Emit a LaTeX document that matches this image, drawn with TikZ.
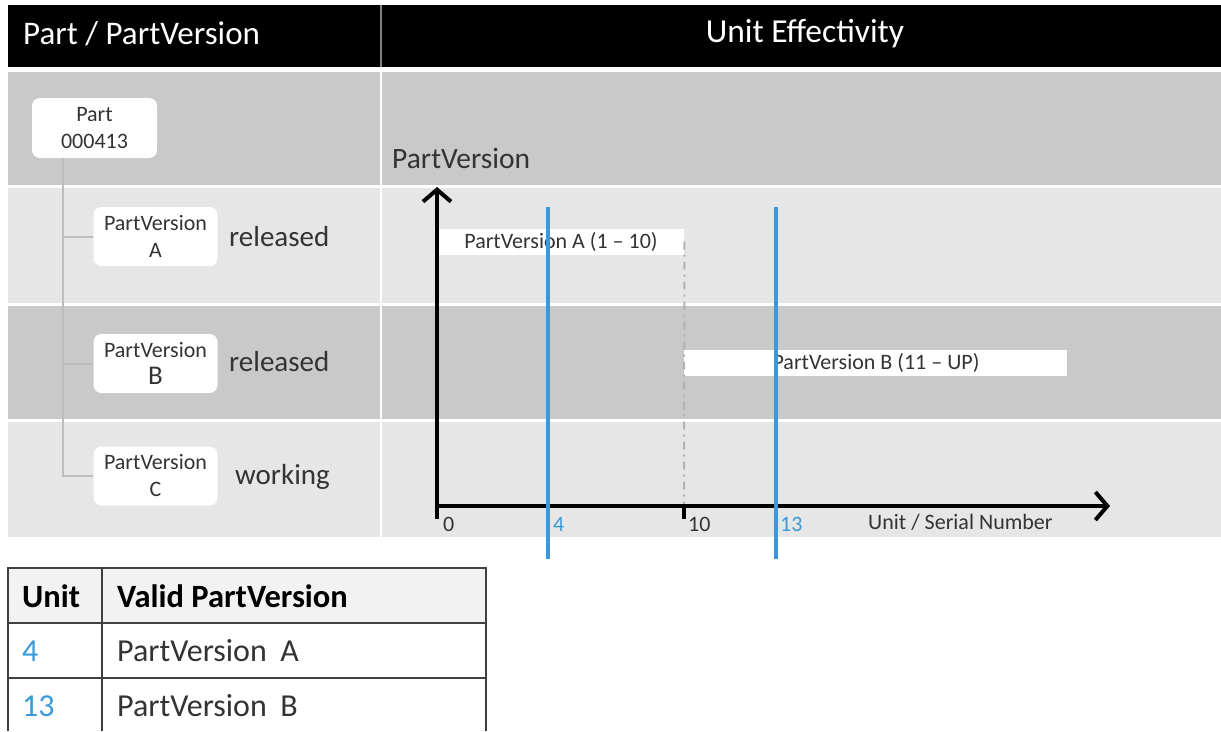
\documentclass[tikz,border=0pt]{standalone}
\usepackage{fontspec}
\setmainfont{Carlito}
\usetikzlibrary{arrows.meta}
\definecolor{rowdark}{HTML}{C9C9C9}
\definecolor{rowlight}{HTML}{E6E6E6}
\definecolor{unitblue}{HTML}{3A9AD9}
\definecolor{treegray}{HTML}{BDBDBD}
\definecolor{txtgray}{HTML}{333333}
\definecolor{tabhead}{HTML}{F2F2F2}
\definecolor{tabline}{HTML}{404040}
\tikzset{
  pvbox/.style={fill=white, rounded corners=8pt, minimum width=124pt, minimum height=59pt,
    align=center, inner sep=0pt, text=txtgray, font=\fontsize{22}{27}\selectfont},
  state/.style={anchor=west, text=txtgray, inner sep=0pt, font=\fontsize{29}{34}\selectfont},
  tree/.style={draw=treegray, line width=2pt},
  bar/.style={fill=white, inner sep=0pt, text=txtgray, font=\fontsize{22}{26}\selectfont},
  axis/.style={line width=4pt, -{Straight Barb[length=12pt,width=28pt,line width=4pt]}},
  unitline/.style={draw=unitblue, line width=3.5pt},
  ticklbl/.style={anchor=west, inner sep=0pt, font=\fontsize{22}{26}\selectfont},
  tabtxt/.style={anchor=west, inner sep=0pt, font=\fontsize{32}{37}\selectfont},
  tabhd/.style={anchor=west, inner sep=0pt, font=\fontsize{32.5}{37}\selectfont\bfseries},
}
\begin{document}
\begin{tikzpicture}[x=1pt,y=-1pt]
\useasboundingbox (0,0) rectangle (1221,731);
% header
\fill[black] (8,5) rectangle (380,67);
\fill[black] (382,5) rectangle (1221,67);
\draw[gray, line width=1.5pt] (381,5) -- (381,67);
\node[anchor=west, text=white, inner sep=0pt, font=\fontsize{33}{38}\selectfont] (h1) at (23,34) {Part / PartVersion};
\node[text=white, inner sep=0pt, font=\fontsize{33.5}{38}\selectfont] (h2) at (805,34) {Unit Effectivity};
% rows
\fill[rowdark]  (8,72)  rectangle (380,185);  \fill[rowdark]  (382,72)  rectangle (1221,185);
\fill[rowlight] (8,188) rectangle (380,303);  \fill[rowlight] (382,188) rectangle (1221,303);
\fill[rowdark]  (8,306) rectangle (380,419);  \fill[rowdark]  (382,306) rectangle (1221,419);
\fill[rowlight] (8,422) rectangle (380,537);  \fill[rowlight] (382,422) rectangle (1221,537);
% left tree
\node[pvbox, minimum width=125pt, minimum height=60pt] (part) at (94.5,128) {Part\\000413};
\node[pvbox] (A) at (155.5,236.5) {PartVersion\\A};
\node[pvbox] (B) at (155.5,363.5) {PartVersion\\\fontsize{27}{27}\selectfont B};
\node[pvbox] (C) at (155.5,476) {PartVersion\\C};
\coordinate (trunk) at (63,0);
\draw[tree] (part.south -| trunk) |- (C.west);
\draw[tree] (A.west -| trunk) -- (A.west);
\draw[tree] (B.west -| trunk) -- (B.west);
\node[state] (sA) at (229,237) {released};
\node[state] (sB) at (229,362) {released};
\node[state] (sC) at (235,477) {working};
% right chart
\node[anchor=west, inner sep=0pt, text=txtgray, font=\fontsize{29.5}{34}\selectfont] (ylbl) at (392,158) {PartVersion};
\node[bar, minimum width=247pt, minimum height=26pt, anchor=west] (barA) at (437,241.5) {};
\node[bar] (barAtxt) at (561,242) {PartVersion A (1 -- 10)};
\node[bar, minimum width=383pt, minimum height=26pt, anchor=west] (barB) at (684,363) {};
\node[bar] (barBtxt) at (876,363) {PartVersion B (11 -- UP)};
\coordinate (origin) at (437,506);
\coordinate (ybot) at (437,519);
\coordinate (ytop) at (437,187);
\coordinate (xend) at (1110,506);
\coordinate (t10) at (684,506);
\coordinate (t10b) at (684,519);
\draw[gray!60, line width=2pt, dash pattern=on 8pt off 5pt on 2pt off 5pt] (barA.east) -- (t10);
\draw[line width=4pt] (t10) -- (t10b);
\draw[axis] (ybot) -- (ytop);
\draw[axis] ([xshift=-2pt]origin) -- (xend);
\coordinate (u4t) at (548,207);  \coordinate (u4b) at (548,559);
\coordinate (u13t) at (776,207); \coordinate (u13b) at (776,559);
\draw[unitline] (u4t) -- (u4b);
\draw[unitline] (u13t) -- (u13b);
\node[ticklbl, text=txtgray] (l0) at (443,524) {0};
\node[ticklbl, text=unitblue] (l4) at (553,524) {4};
\node[ticklbl, text=txtgray] (l10) at (688,524) {10};
\node[ticklbl, text=unitblue] (l13) at (780,524) {13};
\node[ticklbl, text=txtgray] (lx) at (868,522) {Unit / Serial Number};
% table
\fill[tabhead] (8,568) rectangle (486,623);
\draw[tabline, line width=1.5pt] (8,731) -- (8,568) -- (486,568) -- (486,731);
\draw[tabline, line width=1.5pt] (102,568) -- (102,731);
\draw[tabline, line width=1.5pt] (8,623) -- (486,623);
\draw[tabline, line width=1.5pt] (8,678) -- (486,678);
\node[tabhd] (th1) at (22,596) {Unit};
\node[tabhd] (th2) at (117,596) {Valid PartVersion};
\node[tabtxt, text=unitblue] (r1a) at (22,651) {4};
\node[tabtxt, text=txtgray] (r1b) at (117,651) {PartVersion\hspace{0.2em} A};
\node[tabtxt, text=unitblue] (r2a) at (22,706) {13};
\node[tabtxt, text=txtgray] (r2b) at (117,706) {PartVersion\hspace{0.2em} B};
\end{tikzpicture}
\end{document}
